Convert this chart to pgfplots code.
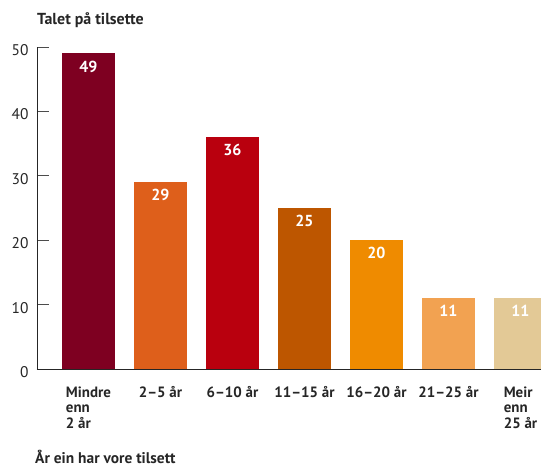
\documentclass[border=0pt]{standalone}
\usepackage{fontspec}
\setmainfont{PT Sans}
\usepackage{pgfplots}
\pgfplotsset{compat=1.18}
\usetikzlibrary{calc}
\definecolor{c1}{HTML}{7E0021}
\definecolor{c2}{HTML}{DE5F1B}
\definecolor{c3}{HTML}{B9000E}
\definecolor{c4}{HTML}{BD5600}
\definecolor{c5}{HTML}{EF8B00}
\definecolor{c6}{HTML}{F2A251}
\definecolor{c7}{HTML}{E3C996}
\begin{document}
\begin{tikzpicture}
\begin{axis}[
 scale only axis, width=504bp, height=322bp,
 xmin=-0.715, xmax=6.285, ymin=0, ymax=50,
 ybar, bar width=53bp, bar shift=0pt,
 axis x line*=bottom, axis y line*=left,
 axis line style={-, draw=black!85, line width=0.9bp},
 ytick={0,10,20,30,40,50}, tick align=inside, major tick length=12bp,
 ytick style={draw=black!70, line width=0.8bp},
 xtick={0,1,2,3,4,5,6},
 xticklabels={{Mindre\\enn\\2 år},{2–5 år},{6–10 år},{11–15 år},{16–20 år},{21–25 år},{Meir\\enn\\25 år}},
 x tick style={draw=none},
 xticklabel style={align=left, font=\bfseries\fontsize{15}{15.5}\selectfont, anchor=north, yshift=-14bp, text=black!85},
 yticklabel style={font=\fontsize{15.5}{16}\selectfont, text=black!85, xshift=-5bp, yshift=-3bp},
 /pgf/number format/assume math mode=true,
 nodes near coords,
 nodes near coords style={anchor=center, yshift=-13bp, text=white, font=\bfseries\fontsize{16}{16}\selectfont},
 clip=true,
]
\addplot[fill=c1, draw=none] coordinates {(0,49)};
\addplot[fill=c2, draw=none] coordinates {(1,29)};
\addplot[fill=c3, draw=none] coordinates {(2,36)};
\addplot[fill=c4, draw=none] coordinates {(3,25)};
\addplot[fill=c5, draw=none] coordinates {(4,20)};
\addplot[fill=c6, draw=none] coordinates {(5,11)};
\addplot[fill=c7, draw=none] coordinates {(6,11)};
\coordinate (bl) at (rel axis cs:0,0);
\end{axis}
\node[anchor=base west, inner sep=0pt, font=\bfseries\fontsize{16}{16}\selectfont, text=black!85] at ($(bl)+(0bp,344bp)$) {Talet på tilsette};
\node[anchor=base west, inner sep=0pt, font=\bfseries\fontsize{15.5}{16}\selectfont, text=black!85] at ($(bl)+(-2bp,-94bp)$) {År ein har vore tilsett};
\pgfresetboundingbox
\path[use as bounding box] ($(bl)+(-37bp,-99bp)$) rectangle ($(bl)+(504bp,369bp)$);
\end{tikzpicture}
\end{document}
